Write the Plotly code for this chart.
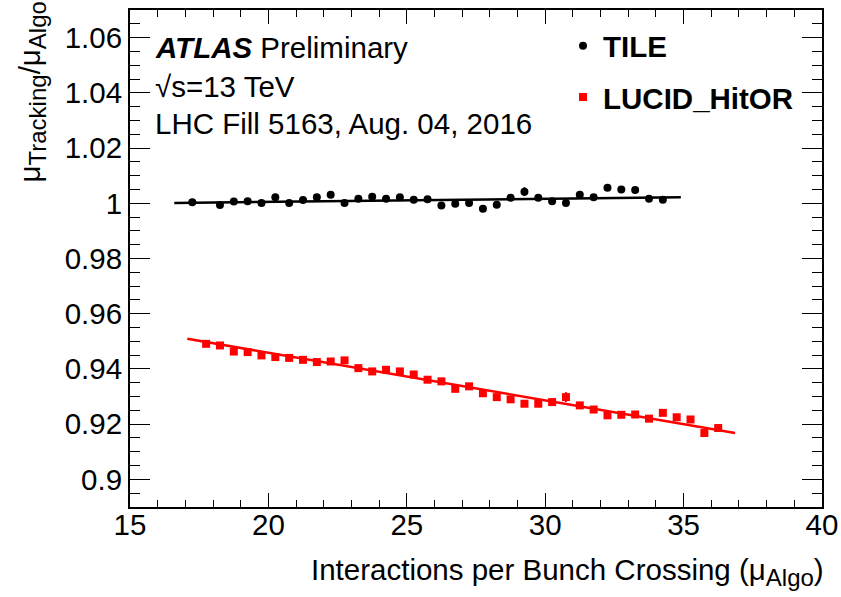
import plotly.graph_objects as go
import numpy as np

# ---------------- data ----------------
tile_x = [17.25, 18.25, 18.75, 19.25, 19.75, 20.25, 20.75, 21.25, 21.75, 22.25,
          22.75, 23.25, 23.75, 24.25, 24.75, 25.25, 25.75, 26.25, 26.75, 27.25,
          27.75, 28.25, 28.75, 29.25, 29.75, 30.25, 30.75, 31.25, 31.75, 32.25,
          32.75, 33.25, 33.75, 34.25]
tile_y = [1.0004, 0.9994, 1.0006, 1.0007, 1.0001, 1.0022, 1.0001, 1.0012, 1.0022, 1.0031,
          1.0001, 1.0016, 1.0024, 1.0016, 1.0022, 1.0013, 1.0015, 0.9992, 0.9998, 1.0001,
          0.9980, 0.9995, 1.0020, 1.0042, 1.0020, 1.0007, 1.0001, 1.0031, 1.0022, 1.0056,
          1.0050, 1.0048, 1.0016, 1.0013]
tile_err = [0.0005, 0.0005, 0.0005, 0.0005, 0.0005, 0.0005, 0.0005, 0.0005, 0.0005, 0.0012,
            0.0005, 0.0005, 0.0005, 0.0005, 0.0005, 0.0005, 0.0010, 0.0005, 0.0005, 0.0005,
            0.0005, 0.0005, 0.0005, 0.0016, 0.0005, 0.0005, 0.0005, 0.0005, 0.0005, 0.0005,
            0.0005, 0.0005, 0.0005, 0.0005]

lucid_x = [17.75, 18.25, 18.75, 19.25, 19.75, 20.25, 20.75, 21.25, 21.75, 22.25,
           22.75, 23.25, 23.75, 24.25, 24.75, 25.25, 25.75, 26.25, 26.75, 27.25,
           27.75, 28.25, 28.75, 29.25, 29.75, 30.25, 30.75, 31.25, 31.75, 32.25,
           32.75, 33.25, 33.75, 34.25, 34.75, 35.25, 35.75, 36.25]
lucid_y = [0.9491, 0.9485, 0.9463, 0.9461, 0.9449, 0.9443, 0.9440, 0.9433, 0.9425, 0.9427,
           0.9431, 0.9403, 0.9391, 0.9397, 0.9391, 0.9380, 0.9361, 0.9355, 0.9328, 0.9337,
           0.9312, 0.9298, 0.9290, 0.9274, 0.9274, 0.9280, 0.9298, 0.9268, 0.9253, 0.9232,
           0.9234, 0.9235, 0.9220, 0.9241, 0.9225, 0.9217, 0.9168, 0.9186]
lucid_err = [0.0006, 0.0006, 0.0006, 0.0006, 0.0006, 0.0006, 0.0006, 0.0006, 0.0006, 0.0006,
             0.0012, 0.0006, 0.0006, 0.0006, 0.0006, 0.0006, 0.0006, 0.0006, 0.0006, 0.0012,
             0.0006, 0.0006, 0.0006, 0.0006, 0.0006, 0.0006, 0.0018, 0.0006, 0.0006, 0.0006,
             0.0006, 0.0006, 0.0006, 0.0006, 0.0006, 0.0006, 0.0006, 0.0006]

# linear fits: [x_start, x_end], intercept, slope
tile_fit_range = [16.6, 34.9]
tile_fit_par = [0.99819, 0.000115]
lucid_fit_range = [17.07, 36.86]
lucid_fit_par = [0.98032, -0.001723]

x_range = [15, 40]
y_range = [0.89, 1.07]

FONT = "Liberation Sans, Arial, Helvetica, sans-serif"
FS = 29.5

def fit_line(rng, par):
    xs = np.array(rng)
    return xs, par[0] + par[1] * xs

fig = go.Figure()

fx, fy = fit_line(tile_fit_range, tile_fit_par)
fig.add_trace(go.Scatter(x=fx, y=fy, mode="lines", line=dict(color="black", width=2.5),
                         showlegend=False, hoverinfo="skip"))
fx, fy = fit_line(lucid_fit_range, lucid_fit_par)
fig.add_trace(go.Scatter(x=fx, y=fy, mode="lines", line=dict(color="#ff0000", width=2.5),
                         showlegend=False, hoverinfo="skip"))

fig.add_trace(go.Scatter(x=tile_x, y=tile_y, mode="markers", name="<b>TILE</b>",
                         legendgroup="a",
                         marker=dict(symbol="circle", size=8, color="black"),
                         error_y=dict(type="data", array=tile_err, color="black",
                                      thickness=2, width=0)))
fig.add_trace(go.Scatter(x=lucid_x, y=lucid_y, mode="markers", name="<b>LUCID_HitOR</b>",
                         legendgroup="b",
                         marker=dict(symbol="square", size=8, color="#ff0000"),
                         error_y=dict(type="data", array=lucid_err, color="#ff0000",
                                      thickness=2, width=0)))

axis_common = dict(showline=True, linecolor="black", linewidth=2, mirror="allticks",
                   ticks="inside", tickcolor="black", showgrid=False, zeroline=False,
                   tickfont=dict(family=FONT, size=FS, color="black"))

fig.update_xaxes(range=x_range, tick0=15, dtick=5, ticklen=14, tickwidth=1,
                 ticklabelstandoff=-9,
                 minor=dict(ticks="inside", dtick=1, ticklen=7, tickcolor="black", tickwidth=1),
                 **axis_common)
fig.update_yaxes(range=y_range, tickvals=[0.90, 0.92, 0.94, 0.96, 0.98, 1.00, 1.02, 1.04, 1.06],
                 ticktext=["0.9", "0.92", "0.94", "0.96", "0.98", "1", "1.02", "1.04", "1.06"],
                 ticklen=20, tickwidth=1,
                 minor=dict(ticks="inside", tick0=0.89, dtick=0.005, ticklen=10,
                            tickcolor="black", tickwidth=1),
                 **axis_common)

L, R, T, B = 130, 19, 10, 90
W, H = 841, 597
ph = H - T - B

def py(pix):
    return (H - B - pix) / ph

def px(pix):
    return (pix - L) / (W - L - R)

SUB = "<sub><span style='font-size:24px'>{}</span></sub>"

annots = [
    dict(text="<b><i>ATLAS</i></b> Preliminary", x=px(153), y=py(47), xanchor="left", yanchor="middle"),
    dict(text="√s=13 TeV", x=px(153), y=py(86), xanchor="left", yanchor="middle"),
    dict(text="LHC Fill 5163, Aug. 04, 2016", x=px(153), y=py(124), xanchor="left", yanchor="middle"),
    dict(text="Interactions per Bunch Crossing (μ" + SUB.format("Algo") + ")", x=px(826), y=py(551),
         xanchor="right", yanchor="top"),
    dict(text="μ" + SUB.format("Tracking") + "/μ" + SUB.format("Algo"), x=px(10), y=py(0),
         textangle=-90, xanchor="left", yanchor="top"),
]
for a in annots:
    a.update(xref="paper", yref="paper", showarrow=False,
             font=dict(family=FONT, size=FS, color="black"))

fig.update_layout(
    width=W, height=H,
    margin=dict(l=L, r=R, t=T, b=B, pad=0, autoexpand=False),
    paper_bgcolor="white", plot_bgcolor="white",
    font=dict(family=FONT, color="black", size=FS),
    annotations=annots,
    showlegend=True,
    legend=dict(x=px(563), y=py(20), xanchor="left", yanchor="top",
                bgcolor="rgba(0,0,0,0)", font=dict(family=FONT, size=FS, color="black"),
                tracegroupgap=10, traceorder="grouped"),
)

fig.write_html("out.html")
